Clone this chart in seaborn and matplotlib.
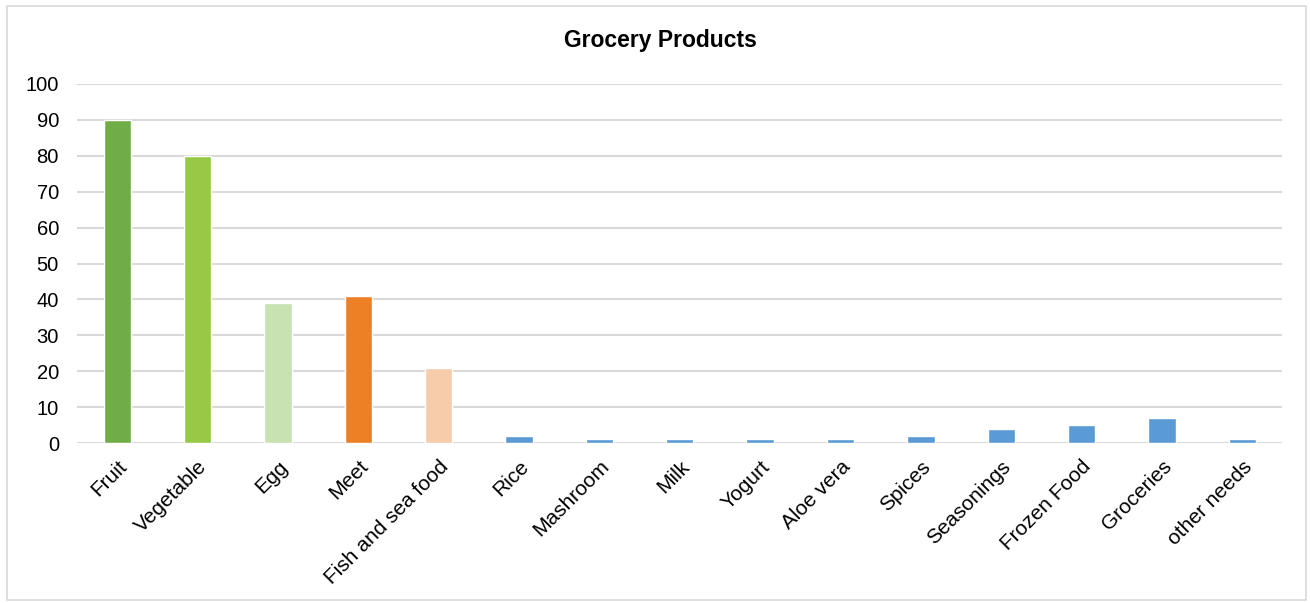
import numpy as np
import pandas as pd
import matplotlib
matplotlib.use("Agg")
import matplotlib.pyplot as plt
import seaborn as sns
from matplotlib.patches import Rectangle

# data
categories = ["Fruit", "Vegetable", "Egg", "Meet", "Fish and sea food", "Rice",
              "Mashroom", "Milk", "Yogurt", "Aloe vera", "Spices", "Seasonings",
              "Frozen Food", "Groceries", "other needs"]
values = [90, 80, 39, 41, 21, 2, 1, 1, 1, 1, 2, 4, 5, 7, 1]
bar_colors = ["#70AD47", "#97C946", "#C8E2B2", "#ED8025", "#F6CCAA"] + ["#5B9BD5"] * 10
yticks = [0, 10, 20, 30, 40, 50, 60, 70, 80, 90, 100]

sns.set_style("white")
plt.rcParams["font.family"] = ["Liberation Sans", "DejaVu Sans"]
plt.rcParams["text.color"] = "black"

df = pd.DataFrame({"category": categories, "value": values})

fig = plt.figure(figsize=(13.1, 6.03), dpi=100)
ax = fig.add_axes([0.0588, 0.2653, 0.9202, 0.5954])

sns.barplot(data=df, x="category", y="value", hue="category",
            palette=bar_colors, saturation=1, width=0.34, legend=False,
            ax=ax, zorder=3)

ax.set_ylim(0, 100)
ax.set_xlim(-0.5, len(categories) - 0.5)
ax.set_yticks(yticks)
ax.yaxis.grid(True, color="#D9D9D9", linewidth=1.5, zorder=0)
ax.set_axisbelow(True)
for s in ax.spines.values():
    s.set_visible(False)
ax.tick_params(axis="both", length=0, labelsize=14.5, colors="black")
ax.tick_params(axis="x", labelsize=15)
ax.tick_params(axis="y", pad=13)
ax.tick_params(axis="x", pad=10)
plt.setp(ax.get_xticklabels(), rotation=45, ha="right", rotation_mode="anchor")
ax.set_xlabel("")
ax.set_ylabel("")

fig.text(0.504, 0.933, "Grocery Products", ha="center", va="center",
         fontsize=16.5, fontweight="bold", color="black")

# chart area frame
fig.patches.append(Rectangle((0.0053, 0.005), 0.9915, 0.985, transform=fig.transFigure,
                             fill=False, edgecolor="#D9D9D9", linewidth=1.2))

fig.savefig("out.png", dpi=100)
